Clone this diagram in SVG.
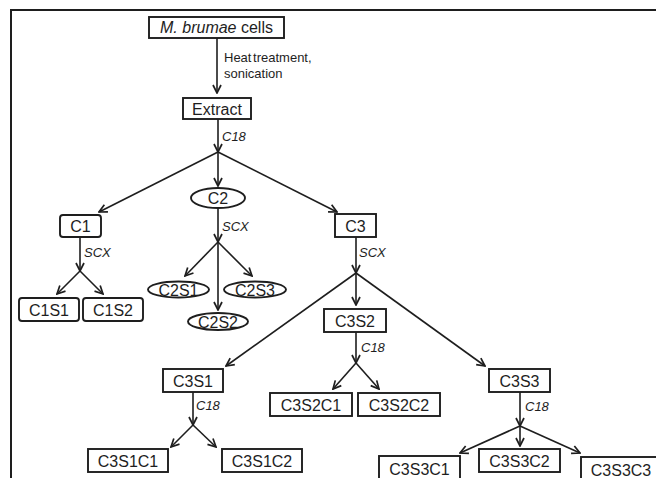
<svg xmlns="http://www.w3.org/2000/svg" width="656" height="478" viewBox="0 0 656 478">
<defs>
<marker id="ah" viewBox="0 0 10 10" refX="9" refY="5" markerWidth="10" markerHeight="10" markerUnits="userSpaceOnUse" orient="auto">
<path d="M1,1 L9,5 L1,9" fill="none" stroke="#1e1e1e" stroke-width="1.7"/>
</marker>
<style>
.n{fill:#fff;stroke:#1e1e1e;stroke-width:1.9}
.t{font-family:"Liberation Sans",Arial,sans-serif;font-size:16px;fill:#1e1e1e;text-anchor:middle}
.l{font-family:"Liberation Sans",Arial,sans-serif;font-size:13px;fill:#1e1e1e;font-style:italic}
.c line{stroke:#1e1e1e;stroke-width:1.6;marker-end:url(#ah)}
</style>
</defs>
<rect width="656" height="478" fill="#fff"/>
<path d="M11,478 V10 H656" fill="none" stroke="#1e1e1e" stroke-width="2"/>
<g id="connectors" class="c">
<line x1="217" y1="38" x2="217" y2="93"/>
<line x1="218" y1="119" x2="218" y2="152"/>
<line x1="218" y1="152" x2="99" y2="212"/>
<line x1="218" y1="152" x2="218" y2="186"/>
<line x1="218" y1="152" x2="337" y2="212"/>
<line x1="80" y1="237" x2="80" y2="271"/>
<line x1="80" y1="271" x2="57" y2="294"/>
<line x1="80" y1="271" x2="103" y2="294"/>
<line x1="218" y1="208" x2="218" y2="242"/>
<line x1="218" y1="242" x2="185" y2="276"/>
<line x1="218" y1="242" x2="252" y2="276"/>
<line x1="218" y1="242" x2="218" y2="310"/>
<line x1="356" y1="237" x2="356" y2="273"/>
<line x1="356" y1="273" x2="356" y2="305"/>
<line x1="356" y1="273" x2="226" y2="366"/>
<line x1="356" y1="273" x2="485" y2="366"/>
<line x1="356" y1="332" x2="356" y2="363"/>
<line x1="356" y1="363" x2="333" y2="389"/>
<line x1="356" y1="363" x2="379" y2="389"/>
<line x1="193" y1="392" x2="193" y2="425"/>
<line x1="193" y1="425" x2="171" y2="447"/>
<line x1="193" y1="425" x2="216" y2="447"/>
<line x1="520" y1="392" x2="520" y2="426"/>
<line x1="520" y1="426" x2="460" y2="453"/>
<line x1="520" y1="426" x2="520" y2="446"/>
<line x1="520" y1="426" x2="580" y2="453"/>
</g>
<g id="edge-labels">
<text class="l" x="224" y="62" style="font-style:normal" word-spacing="-2">Heat treatment,</text>
<text class="l" x="224" y="78" style="font-style:normal">sonication</text>
<text class="l" x="222" y="141">C18</text>
<text class="l" x="84" y="257">SCX</text>
<text class="l" x="222" y="231">SCX</text>
<text class="l" x="359" y="257">SCX</text>
<text class="l" x="196" y="410">C18</text>
<text class="l" x="361" y="352">C18</text>
<text class="l" x="525" y="411">C18</text>
</g>
<g id="cells"><rect class="n" x="149" y="17" width="135" height="21"/><text class="t" x="216.5" y="33" font-size="16.5"><tspan font-style="italic">M. brumae</tspan> cells</text></g>
<g id="extract"><rect class="n" x="183" y="98" width="68" height="21"/><text class="t" x="217" y="114.5">Extract</text></g>
<g id="C1"><rect class="n" x="60" y="215" width="41" height="22" rx="3"/><text class="t" x="80.5" y="232">C1</text></g>
<g id="C2"><ellipse class="n" cx="218" cy="198" rx="27" ry="10"/><text class="t" x="218" y="204">C2</text></g>
<g id="C3"><rect class="n" x="335" y="214" width="41" height="23"/><text class="t" x="355.5" y="231.5">C3</text></g>
<g id="C1S1"><rect class="n" x="19" y="298" width="60" height="23" rx="3"/><text class="t" x="49" y="315.5">C1S1</text></g>
<g id="C1S2"><rect class="n" x="83" y="298" width="60" height="23" rx="3"/><text class="t" x="113" y="315.5">C1S2</text></g>
<g id="C2S1"><ellipse class="n" cx="178.5" cy="289.5" rx="30.5" ry="8"/><text class="t" x="178.5" y="295.5">C2S1</text></g>
<g id="C2S3"><ellipse class="n" cx="255" cy="289.5" rx="31" ry="8"/><text class="t" x="255" y="295.5">C2S3</text></g>
<g id="C2S2"><ellipse class="n" cx="218" cy="321.5" rx="30" ry="8.5"/><text class="t" x="218" y="327.5">C2S2</text></g>
<g id="C3S2"><rect class="n" x="324" y="309" width="62" height="23"/><text class="t" x="355" y="326.5">C3S2</text></g>
<g id="C3S1"><rect class="n" x="163" y="369" width="60" height="23"/><text class="t" x="193" y="386.5">C3S1</text></g>
<g id="C3S3"><rect class="n" x="489" y="369" width="61" height="23"/><text class="t" x="519.5" y="386.5">C3S3</text></g>
<g id="C3S2C1"><rect class="n" x="270" y="393" width="82" height="23"/><text class="t" x="311" y="410.5">C3S2C1</text></g>
<g id="C3S2C2"><rect class="n" x="358" y="393" width="82" height="23"/><text class="t" x="399" y="410.5">C3S2C2</text></g>
<g id="C3S1C1"><rect class="n" x="88" y="449" width="80" height="23"/><text class="t" x="128" y="466.5" font-size="17">C3S1C1</text></g>
<g id="C3S1C2"><rect class="n" x="222" y="449" width="80" height="23"/><text class="t" x="262" y="466.5" font-size="17">C3S1C2</text></g>
<g id="C3S3C1"><rect class="n" x="379" y="456" width="81" height="30"/><text class="t" x="419.5" y="475" font-size="17">C3S3C1</text></g>
<g id="C3S3C2"><rect class="n" x="479" y="449" width="81" height="23"/><text class="t" x="519.5" y="466.5" font-size="17">C3S3C2</text></g>
<g id="C3S3C3"><rect class="n" x="581" y="457" width="90" height="30"/><text class="t" x="621" y="476" font-size="17">C3S3C3</text></g>
</svg>
